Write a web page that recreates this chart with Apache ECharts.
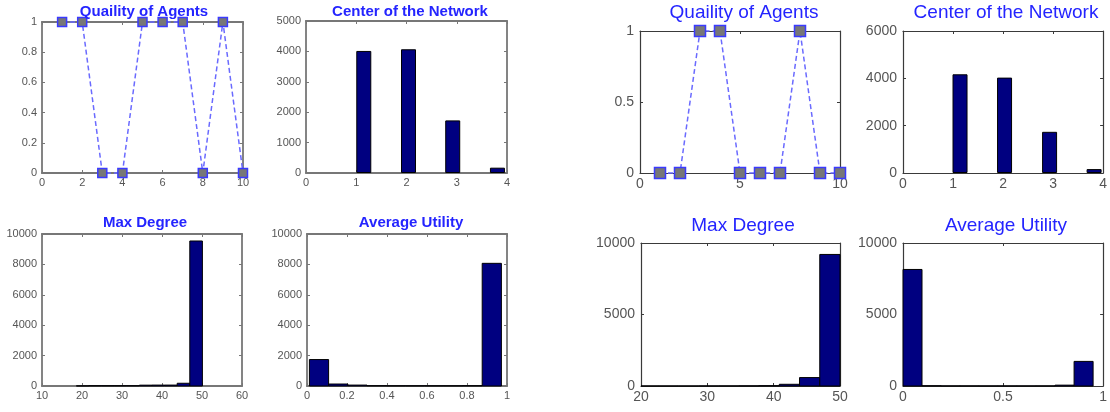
<!DOCTYPE html>
<html>
<head>
<meta charset="utf-8">
<script src="https://cdn.jsdelivr.net/npm/echarts@6/dist/echarts.min.js"></script>
<style>
html,body{margin:0;padding:0;background:#fff;}
#chart{width:1110px;height:412px;}
</style>
</head>
<body>
<div id="chart"></div>
<script>
// ---------- data ----------
const qualityX = [1, 2, 3, 4, 5, 6, 7, 8, 9, 10];
const qualityA = [1, 1, 0, 0, 1, 1, 1, 0, 1, 0];
const qualityB = [0, 0, 1, 1, 0, 0, 0, 1, 0, 0];

const centerXA = [1.15, 2.04, 2.92, 3.81];
const centerA = [4015, 4070, 1730, 175];
const centerXB = [1.14, 2.03, 2.93, 3.82];
const centerB = [4170, 4030, 1740, 165];

const maxDegEdgesA = [18.6, 21.75, 24.9, 28.05, 31.2, 34.35, 37.5, 40.65, 43.8, 46.95, 50.1];
const maxDegA = [10, 20, 20, 20, 20, 55, 60, 60, 180, 9540];
const maxDegEdgesB = [19.5, 22.55, 25.6, 28.65, 31.7, 34.75, 37.8, 40.85, 43.9, 46.95, 50];
const maxDegB = [5, 5, 5, 8, 10, 15, 25, 120, 590, 9200];

const utilEdgesA = [0.012, 0.108, 0.204, 0.300, 0.396, 0.492, 0.588, 0.684, 0.780, 0.876, 0.972];
const utilA = [1740, 130, 60, 20, 15, 15, 15, 15, 20, 8070];
const utilEdgesB = [0, 0.095, 0.19, 0.285, 0.38, 0.475, 0.57, 0.665, 0.76, 0.855, 0.95];
const utilB = [8150, 20, 10, 10, 8, 8, 8, 10, 60, 1720];

const titles = ['Quaility of Agents', 'Center of the Network', 'Max Degree', 'Average Utility'];

// x/y ranges: [min, max, interval]
const xRangesA = [[0, 10, 2], [0, 4, 1], [10, 60, 10], [0, 1, 0.2]];
const yRangesA = [[0, 1, 0.2], [0, 5000, 1000], [0, 10000, 2000], [0, 10000, 2000]];
const xRangesB = [[0, 10, 5], [0, 4, 1], [20, 50, 10], [0, 1, 0.5]];
const yRangesB = [[0, 1, 0.5], [0, 6000, 2000], [0, 10000, 5000], [0, 10000, 5000]];

// ---------- layout ----------
const grids = [
  {left: 42, top: 22, width: 201, height: 151},
  {left: 306, top: 21, width: 201, height: 152},
  {left: 42, top: 234, width: 200, height: 152},
  {left: 307, top: 234, width: 200, height: 152},
  {left: 640, top: 31, width: 200, height: 142},
  {left: 903, top: 31, width: 202, height: 142},
  {left: 641, top: 243, width: 199, height: 143},
  {left: 903, top: 243, width: 202, height: 143}
];
const titlePos = [
  [139, -1], [405, -1], [140, 210], [406, 210],
  [739, -2], [1001, -2], [738, 211], [1001, 211]
];

const FONT = '"Liberation Sans", Arial, sans-serif';

const option = {
  animation: false,
  backgroundColor: '#fff',
  title: [], grid: [], xAxis: [], yAxis: [], series: []
};

grids.forEach((g, i) => {
  const right = i >= 4;
  const k = i % 4;
  option.grid.push(Object.assign({containLabel: false}, g));
  option.title.push({
    text: titles[k],
    left: titlePos[i][0], top: titlePos[i][1], textAlign: 'center',
    textStyle: {
      color: '#2424ff', fontFamily: FONT,
      fontSize: right ? 19 : 15, fontWeight: right ? 'normal' : 'bold'
    }
  });
  const xr = right ? xRangesB[k] : xRangesA[k];
  const yr = right ? yRangesB[k] : yRangesA[k];
  const lineCol = right ? '#3a3a3a' : '#777';
  const lineW = right ? 1.2 : 1.8;
  const lab = {color: '#555', fontFamily: FONT, fontSize: right ? 14 : 11,
    showMinLabel: true, showMaxLabel: true};
  const base = (pos, r, show) => ({
    type: 'value', gridIndex: i, position: pos, min: r[0], max: r[1], interval: r[2],
    axisLine: {show: true, onZero: false, lineStyle: {color: lineCol, width: lineW}},
    axisTick: {show: true, inside: true, length: 3, lineStyle: {color: lineCol}},
    splitLine: {show: false},
    axisLabel: Object.assign({show: show, margin: 4}, lab)
  });
  const xb = base('bottom', xr, true);
  const xt = base('top', xr, false);
  const yl = base('left', yr, true);
  yl.axisLabel.margin = right ? 6 : 5;
  yl.axisLabel.formatter = v => String(v);
  const yrr = base('right', yr, false);
  option.xAxis.push(xb, xt);
  option.yAxis.push(yl, yrr);
});

function histSeries(gi, edges, counts) {
  return {
    type: 'custom', xAxisIndex: gi * 2, yAxisIndex: gi * 2,
    data: counts.map((c, j) => [edges[j], edges[j + 1], c]),
    encode: {x: [0, 1], y: 2},
    renderItem: (params, api) => {
      const p0 = api.coord([api.value(0), 0]);
      const p1 = api.coord([api.value(1), api.value(2)]);
      const cs = params.coordSys;
      const r = echarts.graphic.clipRectByRect(
        {x: p0[0], y: p1[1], width: p1[0] - p0[0], height: p0[1] - p1[1]},
        {x: cs.x, y: cs.y, width: cs.width, height: cs.height}
      );
      if (!r) return null;
      return {type: 'rect', shape: r, style: {fill: '#000080', stroke: '#000', lineWidth: 1}};
    }
  };
}

function lineSeries(gi, ys, big) {
  return {
    type: 'line', xAxisIndex: gi * 2, yAxisIndex: gi * 2, clip: false,
    data: qualityX.map((x, j) => [x, ys[j]]),
    symbol: 'rect', symbolSize: big ? 11 : 9,
    itemStyle: {color: '#777', borderColor: '#3a3aff', borderWidth: 1.5},
    lineStyle: {color: '#6a6aff', width: 1.5, type: [5, 3]},
    z: 3
  };
}

function barSeries(gi, xs, ys) {
  return {
    type: 'bar', xAxisIndex: gi * 2, yAxisIndex: gi * 2,
    data: xs.map((x, j) => [x, ys[j]]), barWidth: 15,
    itemStyle: {color: '#000080', borderColor: '#000', borderWidth: 1}
  };
}

option.series.push(
  lineSeries(0, qualityA, false),
  barSeries(1, centerXA, centerA),
  histSeries(2, maxDegEdgesA, maxDegA),
  histSeries(3, utilEdgesA, utilA),
  lineSeries(4, qualityB, true),
  barSeries(5, centerXB, centerB),
  histSeries(6, maxDegEdgesB, maxDegB),
  histSeries(7, utilEdgesB, utilB)
);

const chart = echarts.init(document.getElementById('chart'), null, {renderer: 'canvas'});
chart.setOption(option);
</script>
</body>
</html>
